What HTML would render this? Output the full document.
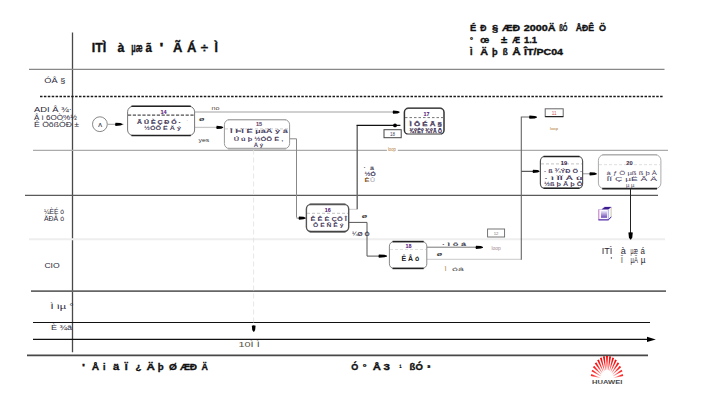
<!DOCTYPE html>
<html><head><meta charset="utf-8">
<style>
html,body{margin:0;padding:0;background:#fff;width:711px;height:405px;overflow:hidden}
svg{display:block}
text{font-family:"Liberation Sans",sans-serif}
</style></head><body>
<svg width="711" height="405" viewBox="0 0 711 405">
<defs>
<marker id="ah" viewBox="0 0 10 10" refX="10" refY="5" markerWidth="7" markerHeight="3.4" orient="auto" markerUnits="userSpaceOnUse" preserveAspectRatio="none"><path d="M0,0 L10,3 L10,7 L0,10 z" fill="#000"/></marker>
</defs>
<line x1="72.5" y1="32.4" x2="72.5" y2="352.2" stroke="#484848" stroke-width="1.3"/>
<line x1="29" y1="69.4" x2="664.5" y2="69.4" stroke="#888" stroke-width="1.4"/>
<line x1="40" y1="96.4" x2="663" y2="96.4" stroke="#1a1a1a" stroke-width="1.5" stroke-dasharray="2.5,1.4"/>
<line x1="33" y1="150.3" x2="668" y2="150.3" stroke="#ababab" stroke-width="1.2"/>
<line x1="25" y1="195.4" x2="658" y2="195.4" stroke="#5a5a5a" stroke-width="1.4"/>
<line x1="29" y1="239.3" x2="665" y2="239.3" stroke="#eeeeee" stroke-width="2"/>
<line x1="31" y1="291.1" x2="666" y2="291.1" stroke="#666" stroke-width="1.6"/>
<line x1="33" y1="322.5" x2="650" y2="322.5" stroke="#111" stroke-width="1.1"/>
<line x1="33" y1="339.4" x2="650" y2="339.4" stroke="#111" stroke-width="1.1"/>
<path d="M647,336.7 L655.8,339.4 L647,342.1 z" fill="#000"/>
<line x1="27" y1="355.4" x2="648" y2="355.4" stroke="#484848" stroke-width="1.6"/>
<text x="91.7" y="51.5" font-size="12" fill="#111" font-weight="bold" textLength="14.5" lengthAdjust="spacingAndGlyphs" stroke="#111" stroke-width="0.35">ITÌ</text>
<text x="117.5" y="51.5" font-size="12" fill="#111" font-weight="bold" textLength="6.9" lengthAdjust="spacingAndGlyphs" stroke="#111" stroke-width="0.35">à</text>
<text x="131.3" y="51.5" font-size="12" fill="#111" font-weight="bold" textLength="11.3" lengthAdjust="spacingAndGlyphs" stroke="#111" stroke-width="0.35">µæ</text>
<text x="145.6" y="51.5" font-size="12" fill="#111" font-weight="bold" textLength="6.4" lengthAdjust="spacingAndGlyphs" stroke="#111" stroke-width="0.35">ã</text>
<text x="159.4" y="51.5" font-size="12" fill="#111" font-weight="bold" textLength="3.9" lengthAdjust="spacingAndGlyphs" stroke="#111" stroke-width="0.35">'</text>
<text x="173.1" y="51.5" font-size="12" fill="#111" font-weight="bold" textLength="9.4" lengthAdjust="spacingAndGlyphs" stroke="#111" stroke-width="0.35">Ã</text>
<text x="186.9" y="51.5" font-size="12" fill="#111" font-weight="bold" textLength="9.4" lengthAdjust="spacingAndGlyphs" stroke="#111" stroke-width="0.35">Á</text>
<text x="200.7" y="51.5" font-size="12" fill="#111" font-weight="bold" textLength="7.3" lengthAdjust="spacingAndGlyphs" stroke="#111" stroke-width="0.35">÷</text>
<text x="214.5" y="51.5" font-size="12" fill="#111" font-weight="bold" textLength="3.4" lengthAdjust="spacingAndGlyphs" stroke="#111" stroke-width="0.35">Ì</text>
<text x="470" y="30.6" font-size="8.6" fill="#111" font-weight="bold" textLength="6.2" lengthAdjust="spacingAndGlyphs" stroke="#111" stroke-width="0.35">É</text>
<text x="480.2" y="30.6" font-size="8.6" fill="#111" font-weight="bold" textLength="6.2" lengthAdjust="spacingAndGlyphs" stroke="#111" stroke-width="0.35">Ð</text>
<text x="492" y="30.6" font-size="8.6" fill="#111" font-weight="bold" textLength="6.2" lengthAdjust="spacingAndGlyphs" stroke="#111" stroke-width="0.35">§</text>
<text x="502" y="30.6" font-size="8.6" fill="#111" font-weight="bold" textLength="18" lengthAdjust="spacingAndGlyphs" stroke="#111" stroke-width="0.35">ÆÐ</text>
<text x="523.8" y="30.6" font-size="8.6" fill="#111" font-weight="bold" textLength="31.9" lengthAdjust="spacingAndGlyphs" stroke="#111" stroke-width="0.35">2000Ä</text>
<text x="559.2" y="30.6" font-size="8.6" fill="#111" font-weight="bold" textLength="8.3" lengthAdjust="spacingAndGlyphs" stroke="#111" stroke-width="0.35">ßÓ</text>
<text x="575.7" y="30.6" font-size="8.6" fill="#111" font-weight="bold" textLength="18.3" lengthAdjust="spacingAndGlyphs" stroke="#111" stroke-width="0.35">ÅÐÊ</text>
<text x="599" y="30.6" font-size="8.6" fill="#111" font-weight="bold" textLength="7" lengthAdjust="spacingAndGlyphs" stroke="#111" stroke-width="0.35">Ö</text>
<text x="470" y="42.7" font-size="8.6" fill="#111" font-weight="bold" textLength="3" lengthAdjust="spacingAndGlyphs" stroke="#111" stroke-width="0.35">°</text>
<text x="480.2" y="42.7" font-size="8.6" fill="#111" font-weight="bold" textLength="9" lengthAdjust="spacingAndGlyphs" stroke="#111" stroke-width="0.35">œ</text>
<text x="501" y="42.7" font-size="8.6" fill="#111" font-weight="bold" textLength="6.2" lengthAdjust="spacingAndGlyphs" stroke="#111" stroke-width="0.35">±</text>
<text x="512.2" y="42.7" font-size="8.6" fill="#111" font-weight="bold" textLength="7.8" lengthAdjust="spacingAndGlyphs" stroke="#111" stroke-width="0.35">Æ</text>
<text x="524" y="42.7" font-size="8.6" fill="#111" font-weight="bold" textLength="13.1" lengthAdjust="spacingAndGlyphs" stroke="#111" stroke-width="0.35">1.1</text>
<text x="470" y="54.8" font-size="8.6" fill="#111" font-weight="bold" textLength="2.5" lengthAdjust="spacingAndGlyphs" stroke="#111" stroke-width="0.35">Ì</text>
<text x="480.2" y="54.8" font-size="8.6" fill="#111" font-weight="bold" textLength="7.8" lengthAdjust="spacingAndGlyphs" stroke="#111" stroke-width="0.35">Ä</text>
<text x="492" y="54.8" font-size="8.6" fill="#111" font-weight="bold" textLength="5.6" lengthAdjust="spacingAndGlyphs" stroke="#111" stroke-width="0.35">þ</text>
<text x="502.7" y="54.8" font-size="8.6" fill="#111" font-weight="bold" textLength="5" lengthAdjust="spacingAndGlyphs" stroke="#111" stroke-width="0.35">ß</text>
<text x="512.2" y="54.8" font-size="8.6" fill="#111" font-weight="bold" textLength="8.5" lengthAdjust="spacingAndGlyphs" stroke="#111" stroke-width="0.35">Å</text>
<text x="524" y="54.8" font-size="8.6" fill="#111" font-weight="bold" textLength="39" lengthAdjust="spacingAndGlyphs" stroke="#111" stroke-width="0.35">ÎT/PC04</text>
<text x="81.9" y="370.3" font-size="8.6" fill="#111" font-weight="bold" textLength="3" lengthAdjust="spacingAndGlyphs" stroke="#111" stroke-width="0.35">'</text>
<text x="91.8" y="370.3" font-size="8.6" fill="#111" font-weight="bold" textLength="7.4" lengthAdjust="spacingAndGlyphs" stroke="#111" stroke-width="0.35">Å</text>
<text x="103.1" y="370.3" font-size="8.6" fill="#111" font-weight="bold" textLength="2.5" lengthAdjust="spacingAndGlyphs" stroke="#111" stroke-width="0.35">i</text>
<text x="113" y="370.3" font-size="8.6" fill="#111" font-weight="bold" textLength="6.3" lengthAdjust="spacingAndGlyphs" stroke="#111" stroke-width="0.35">ä</text>
<text x="124.8" y="370.3" font-size="8.6" fill="#111" font-weight="bold" textLength="2.9" lengthAdjust="spacingAndGlyphs" stroke="#111" stroke-width="0.35">Ï</text>
<text x="135.6" y="370.3" font-size="8.6" fill="#111" font-weight="bold" textLength="5.9" lengthAdjust="spacingAndGlyphs" stroke="#111" stroke-width="0.35">¿</text>
<text x="146.4" y="370.3" font-size="8.6" fill="#111" font-weight="bold" textLength="8.4" lengthAdjust="spacingAndGlyphs" stroke="#111" stroke-width="0.35">Ä</text>
<text x="157.7" y="370.3" font-size="8.6" fill="#111" font-weight="bold" textLength="5.9" lengthAdjust="spacingAndGlyphs" stroke="#111" stroke-width="0.35">þ</text>
<text x="169" y="370.3" font-size="8.6" fill="#111" font-weight="bold" textLength="7.9" lengthAdjust="spacingAndGlyphs" stroke="#111" stroke-width="0.35">Ø</text>
<text x="179.9" y="370.3" font-size="8.6" fill="#111" font-weight="bold" textLength="17.2" lengthAdjust="spacingAndGlyphs" stroke="#111" stroke-width="0.35">ÆÐ</text>
<text x="201.5" y="370.3" font-size="8.6" fill="#111" font-weight="bold" textLength="6.4" lengthAdjust="spacingAndGlyphs" stroke="#111" stroke-width="0.35">Ä</text>
<text x="351.3" y="370.1" font-size="8.6" fill="#111" font-weight="bold" textLength="7" lengthAdjust="spacingAndGlyphs" stroke="#111" stroke-width="0.35">Ó</text>
<text x="362.7" y="370.1" font-size="8.6" fill="#111" font-weight="bold" textLength="3.8" lengthAdjust="spacingAndGlyphs" stroke="#111" stroke-width="0.35">°</text>
<text x="372.8" y="370.1" font-size="8.6" fill="#111" font-weight="bold" textLength="8.2" lengthAdjust="spacingAndGlyphs" stroke="#111" stroke-width="0.35">Å</text>
<text x="383.6" y="370.1" font-size="8.6" fill="#111" font-weight="bold" textLength="6.4" lengthAdjust="spacingAndGlyphs" stroke="#111" stroke-width="0.35">3</text>
<text x="399.4" y="370.1" font-size="8.6" fill="#111" font-weight="bold" textLength="1.9" lengthAdjust="spacingAndGlyphs" stroke="#111" stroke-width="0.35">¹</text>
<text x="409.6" y="370.1" font-size="8.6" fill="#111" font-weight="bold" textLength="13.2" lengthAdjust="spacingAndGlyphs" stroke="#111" stroke-width="0.35">ßÓ</text>
<text x="427.3" y="370.1" font-size="8.6" fill="#111" font-weight="bold" textLength="3.1" lengthAdjust="spacingAndGlyphs" stroke="#111" stroke-width="0.35">³</text>
<text x="44.3" y="82.6" font-size="7" fill="#2a2838" textLength="21" lengthAdjust="spacingAndGlyphs">ÓÂ §</text>
<text x="34" y="112" font-size="6.4" fill="#2a2838" textLength="38" lengthAdjust="spacingAndGlyphs">ADI  Â ¾·</text>
<text x="34" y="119.6" font-size="6.4" fill="#2a2838" textLength="43" lengthAdjust="spacingAndGlyphs">Â ì 6OÒ%½</text>
<text x="34" y="127" font-size="6.4" fill="#2a2838" textLength="45" lengthAdjust="spacingAndGlyphs">Ê ÖõßÓÐ ±</text>
<text x="44" y="213.5" font-size="6.4" fill="#2a2838" textLength="20" lengthAdjust="spacingAndGlyphs">¼ÈÉ ó</text>
<text x="44" y="221" font-size="6.4" fill="#2a2838" textLength="20" lengthAdjust="spacingAndGlyphs">ÄÐÂ ó</text>
<text x="44.4" y="268.3" font-size="6.6" fill="#2a2838" textLength="15.3" lengthAdjust="spacingAndGlyphs">CIO</text>
<text x="50.6" y="309" font-size="6.4" fill="#2a2838" textLength="23" lengthAdjust="spacingAndGlyphs">Ì  ìµ °</text>
<text x="51" y="330" font-size="6.4" fill="#2a2838" textLength="21" lengthAdjust="spacingAndGlyphs">È ¾â</text>
<text x="238.4" y="346.6" font-size="6.4" fill="#554" textLength="21.3" lengthAdjust="spacingAndGlyphs">10Ì   Ì</text>
<text x="601.7" y="253.8" font-size="8.2" fill="#2a2430" textLength="10.6" lengthAdjust="spacingAndGlyphs">ITÌ</text>
<text x="620.7" y="253.8" font-size="8.2" fill="#2a2430" textLength="5.1" lengthAdjust="spacingAndGlyphs">à</text>
<text x="630.6" y="253.8" font-size="8.2" fill="#2a2430" textLength="7.3" lengthAdjust="spacingAndGlyphs">µæ</text>
<text x="640.4" y="253.8" font-size="8.2" fill="#2a2430" textLength="4.4" lengthAdjust="spacingAndGlyphs">á</text>
<text x="610.6" y="262.9" font-size="8.2" fill="#2a2430" textLength="1.6" lengthAdjust="spacingAndGlyphs">'</text>
<text x="621" y="262.9" font-size="8.2" fill="#2a2430" textLength="1.8" lengthAdjust="spacingAndGlyphs">Ï</text>
<text x="630.6" y="262.9" font-size="8.2" fill="#2a2430" textLength="7.3" lengthAdjust="spacingAndGlyphs">µÄ</text>
<text x="640.8" y="262.9" font-size="8.2" fill="#2a2430" textLength="4.7" lengthAdjust="spacingAndGlyphs">µ</text>
<defs><radialGradient id="hw" gradientUnits="userSpaceOnUse" cx="607" cy="380" r="24"><stop offset="0.25" stop-color="#ffd0d0"/><stop offset="0.6" stop-color="#ff3030"/><stop offset="1" stop-color="#ee0000"/></radialGradient></defs>
<g fill="url(#hw)">
<path d="M600.36,377.71 L591.34,374.10 L590.77,375.92 L600.24,378.10 z"/>
<path d="M600.81,375.87 L592.52,369.76 L591.51,371.37 L600.60,376.21 z"/>
<path d="M601.49,374.18 L594.21,365.81 L592.86,367.15 L601.20,374.46 z"/>
<path d="M602.36,372.71 L596.35,362.37 L594.77,363.43 L602.03,372.93 z"/>
<path d="M603.41,371.51 L598.89,359.58 L597.15,360.36 L603.05,371.67 z"/>
<path d="M604.60,370.62 L601.73,357.54 L599.90,358.05 L604.21,370.73 z"/>
<path d="M605.88,370.08 L604.79,356.33 L602.91,356.58 L605.48,370.14 z"/>
<path d="M607.20,369.92 L607.95,356.00 L606.05,356.00 L606.80,369.92 z"/>
<path d="M608.52,370.14 L611.09,356.58 L609.21,356.33 L608.12,370.08 z"/>
<path d="M609.79,370.73 L614.10,358.05 L612.27,357.54 L609.40,370.62 z"/>
<path d="M610.95,371.67 L616.85,360.36 L615.11,359.58 L610.59,371.51 z"/>
<path d="M611.97,372.93 L619.23,363.43 L617.65,362.37 L611.64,372.71 z"/>
<path d="M612.80,374.46 L621.14,367.15 L619.79,365.81 L612.51,374.18 z"/>
<path d="M613.40,376.21 L622.49,371.37 L621.48,369.76 L613.19,375.87 z"/>
<path d="M613.76,378.10 L623.23,375.92 L622.66,374.10 L613.64,377.71 z"/>
</g>
<text x="607.2" y="383.7" font-size="6.2" fill="#4a4a4a" font-weight="bold" text-anchor="middle" textLength="30.2" lengthAdjust="spacingAndGlyphs">HUAWEI</text>
<g fill="none">
<line x1="107.6" y1="124.3" x2="123.5" y2="124.3" stroke="#999" stroke-width="0.9"/>
<line x1="195" y1="111.9" x2="399" y2="111.9" stroke="#c0c0c0" stroke-width="1.5"/>
<line x1="195" y1="127.4" x2="222" y2="127.4" stroke="#c8c8c8" stroke-width="1.3"/>
<polyline points="289.6,138.8 296.5,138.8 296.5,217.5" stroke="#888" stroke-width="1"/>
<line x1="296.5" y1="218.1" x2="306.4" y2="218.1" stroke="#666" stroke-width="0.8"/>
<polyline points="349,209.3 357.2,209.3" stroke="#ccc" stroke-width="1"/>
<polyline points="357.2,209.3 357.2,125.3" stroke="#666" stroke-width="1.4"/>
<polyline points="356.6,125.4 400.4,125.4" stroke="#111" stroke-width="1.3"/>
<polyline points="348.8,222.4 367,222.4 367,256.1 387,256.1" stroke="#555" stroke-width="1"/>
<line x1="426.8" y1="247.2" x2="482" y2="247.2" stroke="#777" stroke-width="1"/>
<polyline points="426.8,259.4 521.3,259.4" stroke="#d4d4d4" stroke-width="1.3"/>
<polyline points="521.3,259.8 521.3,117 536,117" stroke="#666" stroke-width="1.1"/>
<line x1="521.5" y1="171.3" x2="539" y2="171.3" stroke="#333" stroke-width="1"/>
<line x1="582.6" y1="173.8" x2="596" y2="173.8" stroke="#999" stroke-width="1"/>
<line x1="630.5" y1="188.7" x2="630.5" y2="236" stroke="#222" stroke-width="1"/>
<line x1="253.6" y1="149.5" x2="253.6" y2="326" stroke="#e0e0e0" stroke-width="0.8" stroke-dasharray="5,3"/>
</g>
<path transform="translate(122.5,124.3) rotate(0)" d="M-7,-1.65 Q-7.9,0 -7,1.65 L-2.10,1.25 L0,0.4 L0,-0.4 L-2.10,-1.25 z" fill="#000"/>
<path transform="translate(399.6,112.2) rotate(0)" d="M-6.5,-1.65 Q-7.4,0 -6.5,1.65 L-1.95,1.25 L0,0.4 L0,-0.4 L-1.95,-1.25 z" fill="#000"/>
<path transform="translate(223.2,127.4) rotate(0)" d="M-6.5,-1.65 Q-7.4,0 -6.5,1.65 L-1.95,1.25 L0,0.4 L0,-0.4 L-1.95,-1.25 z" fill="#000"/>
<path transform="translate(305.5,218.1) rotate(0)" d="M-6.5,-1.65 Q-7.4,0 -6.5,1.65 L-1.95,1.25 L0,0.4 L0,-0.4 L-1.95,-1.25 z" fill="#000"/>
<circle cx="395" cy="125.4" r="1.9" fill="#000"/>
<path transform="translate(386.9,256.1) rotate(0)" d="M-8,-1.65 Q-8.9,0 -8,1.65 L-2.40,1.25 L0,0.4 L0,-0.4 L-2.40,-1.25 z" fill="#000"/>
<path transform="translate(483,247.3) rotate(0)" d="M-7,-1.65 Q-7.9,0 -7,1.65 L-2.10,1.25 L0,0.4 L0,-0.4 L-2.10,-1.25 z" fill="#000"/>
<path transform="translate(537,117.2) rotate(0)" d="M-7.5,-1.65 Q-8.4,0 -7.5,1.65 L-2.25,1.25 L0,0.4 L0,-0.4 L-2.25,-1.25 z" fill="#000"/>
<path transform="translate(539.5,171.3) rotate(0)" d="M-6.5,-1.65 Q-7.4,0 -6.5,1.65 L-1.95,1.25 L0,0.4 L0,-0.4 L-1.95,-1.25 z" fill="#000"/>
<path transform="translate(596.8,173.8) rotate(0)" d="M-7,-1.65 Q-7.9,0 -7,1.65 L-2.10,1.25 L0,0.4 L0,-0.4 L-2.10,-1.25 z" fill="#000"/>
<path transform="translate(630.6,239.6) rotate(90)" d="M-7,-2.2 Q-7.9,0 -7,2.2 L-2.10,1.67 L0,0.4 L0,-0.4 L-2.10,-1.67 z" fill="#000"/>
<path transform="translate(253.7,331.8) rotate(90)" d="M-6,-1.9 Q-6.9,0 -6,1.9 L-1.80,1.44 L0,0.4 L0,-0.4 L-1.80,-1.44 z" fill="#000"/>
<circle cx="99.9" cy="124.2" r="7.4" fill="#fff" stroke="#888" stroke-width="1"/>
<text x="100.2" y="127.4" font-size="5.6" fill="#334" text-anchor="middle" stroke="#334" stroke-width="0.2">Λ</text>
<rect x="127.6" y="106.3" width="67.00" height="29.20" rx="5.5" fill="#fff" stroke="#777" stroke-width="1.0"/>
<line x1="131.45" y1="106.3" x2="190.75" y2="106.3" stroke="#222" stroke-width="1.6"/>
<line x1="131.45" y1="135.5" x2="190.75" y2="135.5" stroke="#222" stroke-width="1.6"/>
<line x1="128" y1="115.1" x2="194.2" y2="115.1" stroke="#222" stroke-width="1" stroke-dasharray="3.2,1.6"/>
<rect x="224.4" y="119.7" width="65.20" height="28.90" rx="5" fill="#fff" stroke="#999" stroke-width="1.0"/>
<line x1="227.90" y1="119.7" x2="286.10" y2="119.7" stroke="#aaa" stroke-width="1.2"/>
<line x1="227.90" y1="148.6" x2="286.10" y2="148.6" stroke="#aaa" stroke-width="1.6"/>
<line x1="225" y1="128.9" x2="289" y2="128.9" stroke="#ccc" stroke-width="1" stroke-dasharray="3,2"/>
<rect x="306.4" y="204.4" width="42.30" height="27.20" rx="4.5" fill="#fff" stroke="#555" stroke-width="1.4"/>
<line x1="309.55" y1="204.4" x2="345.55" y2="204.4" stroke="#555" stroke-width="1.6"/>
<line x1="309.55" y1="231.6" x2="345.55" y2="231.6" stroke="#444" stroke-width="1.6"/>
<line x1="307" y1="213.3" x2="348" y2="213.3" stroke="#bbb" stroke-width="0.9" stroke-dasharray="3,2"/>
<rect x="404.4" y="108.3" width="39.60" height="25.90" rx="4" fill="#fff" stroke="#333" stroke-width="1.5"/>
<line x1="407.20" y1="108.3" x2="441.20" y2="108.3" stroke="#555" stroke-width="1.1"/>
<line x1="407.20" y1="134.2" x2="441.20" y2="134.2" stroke="#bbb" stroke-width="1.1"/>
<line x1="405" y1="117.6" x2="443.5" y2="117.6" stroke="#777" stroke-width="1" stroke-dasharray="2.5,2"/>
<rect x="389.4" y="241.6" width="37.40" height="26.80" rx="4.5" fill="#fff" stroke="#888" stroke-width="1.0"/>
<line x1="392.55" y1="241.6" x2="423.65" y2="241.6" stroke="#222" stroke-width="1.6"/>
<line x1="392.55" y1="268.4" x2="423.65" y2="268.4" stroke="#222" stroke-width="1.6"/>
<line x1="390" y1="249.5" x2="426" y2="249.5" stroke="#ddd" stroke-width="0.9" stroke-dasharray="3,2"/>
<rect x="540.4" y="156.5" width="42.20" height="31.80" rx="4.5" fill="#fff" stroke="#555" stroke-width="1.2"/>
<line x1="543.55" y1="156.5" x2="579.45" y2="156.5" stroke="#222" stroke-width="1.6"/>
<line x1="543.55" y1="188.3" x2="579.45" y2="188.3" stroke="#222" stroke-width="1.6"/>
<line x1="541" y1="163.9" x2="582" y2="163.9" stroke="#bbb" stroke-width="0.9" stroke-dasharray="3,2"/>
<rect x="598.4" y="154.8" width="62.50" height="33.80" rx="5.5" fill="#fff" stroke="#aaa" stroke-width="1"/>
<line x1="602.25" y1="154.8" x2="657.05" y2="154.8" stroke="#aaa" stroke-width="1"/>
<line x1="602.25" y1="188.6" x2="657.05" y2="188.6" stroke="#222" stroke-width="1.6"/>
<line x1="599" y1="164.7" x2="660.4" y2="164.7" stroke="#ddd" stroke-width="0.9" stroke-dasharray="3,2"/>
<rect x="384" y="129.7" width="17.2" height="8" fill="#fff" stroke="#444" stroke-width="1"/>
<rect x="545.2" y="108.8" width="18" height="7.8" fill="#fff" stroke="#666" stroke-width="1"/><line x1="545.2" y1="116.6" x2="563.2" y2="116.6" stroke="#222" stroke-width="1.2"/>
<rect x="487.6" y="229" width="17" height="8" fill="#fff" stroke="#666" stroke-width="0.9"/>
<text x="163.5" y="113.6" font-size="5.6" fill="#5a2088" font-weight="bold" text-anchor="middle" textLength="6.2" lengthAdjust="spacingAndGlyphs" stroke-width="0.15" stroke="#000" stroke-opacity="0.4">14</text>
<text x="259" y="126.1" font-size="5.6" fill="#6a4a70" font-weight="bold" text-anchor="middle" textLength="6.2" lengthAdjust="spacingAndGlyphs" stroke-width="0.15" stroke="#000" stroke-opacity="0.4">15</text>
<text x="327.8" y="211.7" font-size="5.6" fill="#5a2088" font-weight="bold" text-anchor="middle" textLength="6" lengthAdjust="spacingAndGlyphs" stroke-width="0.15" stroke="#000" stroke-opacity="0.4">16</text>
<text x="426.5" y="115.8" font-size="5.6" fill="#5a2088" font-weight="bold" text-anchor="middle" textLength="6" lengthAdjust="spacingAndGlyphs" stroke-width="0.15" stroke="#000" stroke-opacity="0.4">17</text>
<text x="408.6" y="247.7" font-size="5.6" fill="#5a2088" font-weight="bold" text-anchor="middle" textLength="6" lengthAdjust="spacingAndGlyphs" stroke-width="0.15" stroke="#000" stroke-opacity="0.4">18</text>
<text x="563.9" y="164.5" font-size="5.6" fill="#442255" font-weight="bold" text-anchor="middle" textLength="6.4" lengthAdjust="spacingAndGlyphs" stroke-width="0.15" stroke="#000" stroke-opacity="0.4">19</text>
<text x="629.4" y="165.3" font-size="5.6" fill="#443355" font-weight="bold" text-anchor="middle" textLength="6.4" lengthAdjust="spacingAndGlyphs" stroke-width="0.15" stroke="#000" stroke-opacity="0.4">20</text>
<text x="392.6" y="136" font-size="4.6" fill="#446" text-anchor="middle">18</text>
<text x="554.2" y="115" font-size="4.6" fill="#c55" text-anchor="middle">11</text>
<text x="496" y="235.3" font-size="4.2" fill="#777" text-anchor="middle">12</text>
<text x="137.1" y="124" font-size="5.6" fill="#4a4060" font-weight="bold" textLength="43.8" lengthAdjust="spacingAndGlyphs" stroke="#4a4060" stroke-width="0.2">Â Ú È Ç Ð Ó ·</text>
<text x="186.2" y="122" font-size="5.6" fill="#999">·</text>
<text x="144" y="130.4" font-size="5.6" fill="#4a4060" font-weight="bold" textLength="36.9" lengthAdjust="spacingAndGlyphs">½ÓÕ Ë  Ä ý</text>
<text x="230" y="133.4" font-size="5.6" fill="#4a4060" font-weight="bold" textLength="58" lengthAdjust="spacingAndGlyphs">Ì ÞÏ  Ë µáÄ ý  â</text>
<text x="233.7" y="141.3" font-size="5.6" fill="#4a4060" font-weight="bold" textLength="49.6" lengthAdjust="spacingAndGlyphs">Ú ú þ ½ÓÕ Ë ,</text>
<text x="253.8" y="146.6" font-size="5.6" fill="#4a4060" font-weight="bold" textLength="9.4" lengthAdjust="spacingAndGlyphs">Ä ý</text>
<text x="310.5" y="220.9" font-size="5.6" fill="#4a4060" font-weight="bold" textLength="36.4" lengthAdjust="spacingAndGlyphs">Ê Ê È ÇÕ Î</text>
<text x="313" y="227.3" font-size="5.6" fill="#4a4060" font-weight="bold" textLength="30.4" lengthAdjust="spacingAndGlyphs">Ô Ë Ñ Ê ý</text>
<text x="409.6" y="126.2" font-size="5.6" fill="#4a4060" font-weight="bold" textLength="32.4" lengthAdjust="spacingAndGlyphs" stroke="#4a4060" stroke-width="0.25">Ì  Ô É Â  §</text>
<text x="409.6" y="132.5" font-size="5.6" fill="#4a4060" font-weight="bold" textLength="32.4" lengthAdjust="spacingAndGlyphs" stroke="#4a4060" stroke-width="0.3">¾ÝÊÝ ¾ÝÃ Õ</text>
<text x="401.5" y="260.9" font-size="6.4" fill="#222" font-weight="bold" textLength="17.8" lengthAdjust="spacingAndGlyphs">Ê Å ó</text>
<text x="543.9" y="173.2" font-size="5.6" fill="#4a4060" font-weight="bold" textLength="38.5" lengthAdjust="spacingAndGlyphs">·  ß  ¾ÝÐ  Ö  ·</text>
<text x="544.5" y="179.7" font-size="5.6" fill="#4a4060" font-weight="bold" textLength="38" lengthAdjust="spacingAndGlyphs">·  ì  ÏÏ  Å  ù</text>
<text x="543.9" y="186.1" font-size="5.6" fill="#4a4060" font-weight="bold" textLength="38.5" lengthAdjust="spacingAndGlyphs">½ß  þ Â  þ  Ô</text>
<text x="606.5" y="175" font-size="5.8" fill="#4a4060" textLength="50.5" lengthAdjust="spacingAndGlyphs">à ƒ Ö µß  ß þ À</text>
<text x="606.5" y="181" font-size="5.8" fill="#4a4060" textLength="50.5" lengthAdjust="spacingAndGlyphs">ÍÏ  Ç  µË  Ã  Ä</text>
<text x="626" y="187.3" font-size="5.8" fill="#4a4060" textLength="8.5" lengthAdjust="spacingAndGlyphs">µ µ</text>
<text x="211.6" y="110.2" font-size="5.2" fill="#5a4a3a" textLength="8" lengthAdjust="spacingAndGlyphs">no</text>
<text x="198.5" y="142.1" font-size="5" fill="#333" textLength="10.8" lengthAdjust="spacingAndGlyphs">yes</text>
<text x="199.1" y="120.6" font-size="6.2" fill="#333" font-weight="bold" textLength="5.4" lengthAdjust="spacingAndGlyphs">ø</text>
<rect x="386.9" y="147" width="10.9" height="6" fill="#fff"/>
<text x="387.9" y="150.6" font-size="4.6" fill="#b07830" textLength="8" lengthAdjust="spacingAndGlyphs">loop</text>
<text x="550" y="130.2" font-size="4.2" fill="#b07830" textLength="8" lengthAdjust="spacingAndGlyphs">loop</text>
<text x="361.8" y="218.4" font-size="6.2" fill="#333" font-weight="bold" textLength="5.4" lengthAdjust="spacingAndGlyphs">ø</text>
<text x="352" y="236.4" font-size="5.6" fill="#3a3a50" font-weight="bold" textLength="17.5" lengthAdjust="spacingAndGlyphs">¼Ø Ò</text>
<text x="436.8" y="256.2" font-size="6.2" fill="#333" font-weight="bold" textLength="5.4" lengthAdjust="spacingAndGlyphs">ø</text>
<text x="442" y="246.4" font-size="5.6" fill="#3a3a4a" font-weight="bold" textLength="24" lengthAdjust="spacingAndGlyphs">· ì ô á</text>
<text x="444.8" y="270.6" font-size="5.2" fill="#b07830" textLength="1.8" lengthAdjust="spacingAndGlyphs">Ì</text>
<text x="452" y="270.6" font-size="5.2" fill="#555" textLength="11.8" lengthAdjust="spacingAndGlyphs">óá</text>
<text x="491.5" y="250.2" font-size="4.6" fill="#a08890" textLength="9.3" lengthAdjust="spacingAndGlyphs">loop</text>
<text x="363.8" y="168.6" font-size="6" fill="#333" font-weight="bold">·</text>
<text x="370" y="170.2" font-size="5" fill="#445" font-weight="bold" textLength="4" lengthAdjust="spacingAndGlyphs">ä</text>
<text x="364.4" y="176.2" font-size="5.6" fill="#3a3458" font-weight="bold" textLength="11.5" lengthAdjust="spacingAndGlyphs">½Ó</text>
<text x="364.4" y="182" font-size="5.6" fill="#8a5a2a" font-weight="bold" textLength="5" lengthAdjust="spacingAndGlyphs">È</text>
<text x="370" y="182" font-size="5.6" fill="#99a" textLength="5" lengthAdjust="spacingAndGlyphs">Û</text>
<defs><linearGradient id="pg" x1="0" y1="0" x2="0" y2="1"><stop offset="0" stop-color="#ece6fa"/><stop offset="1" stop-color="#6c4cb4"/></linearGradient></defs>
<path d="M601.5,209.5 L604.5,207 L611.3,207 L611.3,217.5 L608.5,220.2 L598.5,220.2 L598.5,209.5 Z" fill="#faf8ff" stroke="#c8b8ec" stroke-width="0.8"/>
<path d="M601.5,209.6 L604.8,207 L611.4,207 L608.3,209.6 Z" fill="#3c1c8c"/>
<line x1="598.8" y1="209.6" x2="598.8" y2="220" stroke="#d090c8" stroke-width="1.1"/>
<line x1="608.3" y1="209.6" x2="608.3" y2="220" stroke="#9aa8e8" stroke-width="0.9"/>
<line x1="611" y1="208" x2="611" y2="217.5" stroke="#e8e4b0" stroke-width="0.9"/>
<line x1="598.5" y1="219.8" x2="608.5" y2="219.8" stroke="#5a3aa8" stroke-width="1.2"/>
<path d="M608.3,219.8 L611.2,216.8" stroke="#5a3aa8" stroke-width="1"/>
<rect x="601" y="211" width="6" height="6.8" fill="url(#pg)"/>
</svg>
</body></html>
